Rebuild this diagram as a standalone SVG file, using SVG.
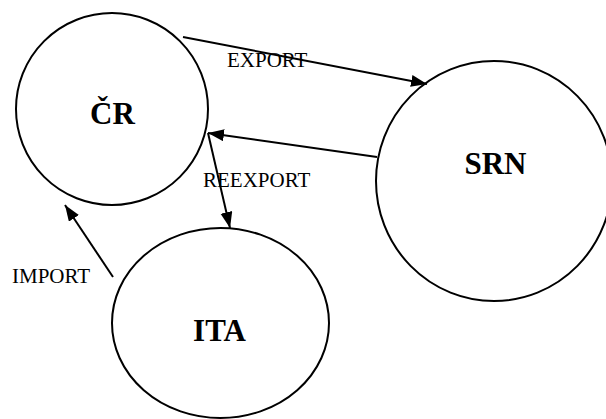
<svg xmlns="http://www.w3.org/2000/svg" width="606" height="419" viewBox="0 0 606 419">
<style>
.node{fill:#fff;stroke:#000;stroke-width:2}
.nl{font-family:"Liberation Serif","Times New Roman",serif;font-weight:bold;font-size:31px;text-anchor:middle;fill:#000}
.el{font-family:"Liberation Serif","Times New Roman",serif;font-size:21px;fill:#000}
.edge{stroke:#000;stroke-width:2;fill:none;marker-end:url(#ah)}
</style>
<defs>
<marker id="ah" markerUnits="userSpaceOnUse" markerWidth="17" markerHeight="13" refX="16" refY="6" orient="auto">
<path d="M0,0 L16,6 L0,12 z" fill="#000"/>
</marker>
</defs>
<rect width="606" height="419" fill="#fff"/>
<g id="node-cr">
<ellipse class="node" cx="112" cy="109" rx="96" ry="96"/>
<text class="nl" x="112.5" y="124">ČR</text>
</g>
<g id="node-srn">
<ellipse class="node" cx="494" cy="181" rx="118" ry="120"/>
<text class="nl" x="495.5" y="174">SRN</text>
</g>
<g id="node-ita">
<ellipse class="node" cx="220.5" cy="323" rx="108.5" ry="95"/>
<text class="nl" x="219.5" y="341">ITA</text>
</g>
<g id="connectors">
<line class="edge" x1="183" y1="37" x2="427" y2="84"/>
<line class="edge" x1="377" y1="157" x2="208" y2="133"/>
<line class="edge" x1="208" y1="133" x2="230" y2="228"/>
<line class="edge" x1="113" y1="277" x2="65" y2="205"/>
<text class="el" x="227" y="67">EXPORT</text>
<text class="el" x="203" y="187">REEXPORT</text>
<text class="el" x="12" y="283">IMPORT</text>
</g>
</svg>
